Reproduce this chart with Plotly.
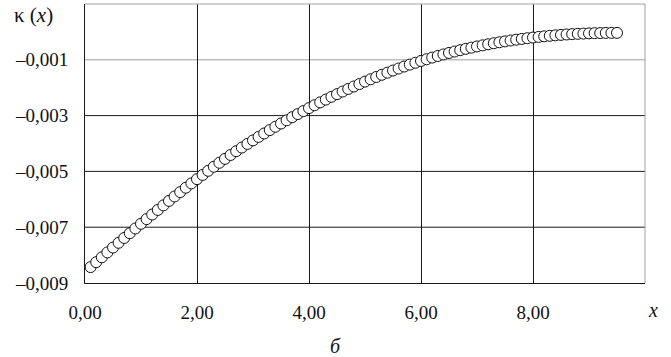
import plotly.graph_objects as go

x_vals = [0.1, 0.2, 0.3, 0.4, 0.5, 0.6, 0.7, 0.8, 0.9, 1.0,
          1.1, 1.2, 1.3, 1.4, 1.5, 1.6, 1.7, 1.8, 1.9, 2.0,
          2.1, 2.2, 2.3, 2.4, 2.5, 2.6, 2.7, 2.8, 2.9, 3.0,
          3.1, 3.2, 3.3, 3.4, 3.5, 3.6, 3.7, 3.8, 3.9, 4.0,
          4.1, 4.2, 4.3, 4.4, 4.5, 4.6, 4.7, 4.8, 4.9, 5.0,
          5.1, 5.2, 5.3, 5.4, 5.5, 5.6, 5.7, 5.8, 5.9, 6.0,
          6.1, 6.2, 6.3, 6.4, 6.5, 6.6, 6.7, 6.8, 6.9, 7.0,
          7.1, 7.2, 7.3, 7.4, 7.5, 7.6, 7.7, 7.8, 7.9, 8.0,
          8.1, 8.2, 8.3, 8.4, 8.5, 8.6, 8.7, 8.8, 8.9, 9.0,
          9.1, 9.2, 9.3, 9.4, 9.5]

kappa = [-0.008430, -0.008254, -0.008078, -0.007904, -0.007730, -0.007558, -0.007386, -0.007216, -0.007046, -0.006878,
         -0.006710, -0.006545, -0.006381, -0.006218, -0.006058, -0.005898, -0.005741, -0.005585, -0.005430, -0.005278,
         -0.005127, -0.004979, -0.004833, -0.004690, -0.004550, -0.004412, -0.004277, -0.004145, -0.004015, -0.003888,
         -0.003763, -0.003640, -0.003519, -0.003400, -0.003284, -0.003169, -0.003057, -0.002946, -0.002838, -0.002732,
         -0.002628, -0.002526, -0.002426, -0.002328, -0.002232, -0.002138, -0.002046, -0.001956, -0.001868, -0.001782,
         -0.001698, -0.001616, -0.001537, -0.001460, -0.001385, -0.001312, -0.001241, -0.001172, -0.001106, -0.001042,
         -0.000980, -0.000920, -0.000863, -0.000808, -0.000755, -0.000704, -0.000655, -0.000608, -0.000564, -0.000522,
         -0.000482, -0.000444, -0.000407, -0.000372, -0.000340, -0.000308, -0.000279, -0.000252, -0.000226, -0.000202,
         -0.000180, -0.000159, -0.000140, -0.000123, -0.000107, -0.000093, -0.000080, -0.000069, -0.000060, -0.000052,
         -0.000046, -0.000041, -0.000037, -0.000035, -0.000035]

x_ticks = [0, 2, 4, 6, 8]
x_ticklabels = ["0,00", "2,00", "4,00", "6,00", "8,00"]
y_ticks = [-0.009, -0.007, -0.005, -0.003, -0.001]
y_ticklabels = ["–0,009", "–0,007", "–0,005", "–0,003", "–0,001"]
y_grid_dark = [-0.007, -0.005, -0.003]
y_grid_light = [-0.001]

FONT = "Liberation Serif, Times New Roman, serif"

fig = go.Figure()
fig.add_trace(go.Scatter(
    x=x_vals, y=kappa, mode="markers",
    marker=dict(symbol="circle", size=11, color="white",
                line=dict(color="#111111", width=1)),
    showlegend=False, hoverinfo="skip"))

shapes = []
for v in y_grid_dark:
    shapes.append(dict(type="line", xref="paper", yref="y", x0=0, x1=1, y0=v, y1=v,
                       line=dict(color="#1a1a1a", width=1), layer="below"))
for v in y_grid_light:
    shapes.append(dict(type="line", xref="paper", yref="y", x0=0, x1=1, y0=v, y1=v,
                       line=dict(color="#a0a0a0", width=1), layer="below"))
shapes.append(dict(type="line", xref="paper", yref="paper", x0=0, x1=1, y0=1, y1=1,
                   line=dict(color="#a0a0a0", width=1)))
shapes.append(dict(type="line", xref="paper", yref="paper", x0=1, x1=1, y0=0, y1=1,
                   line=dict(color="#a0a0a0", width=1)))

fig.update_layout(
    width=671, height=357,
    margin=dict(l=85, r=26, t=4, b=74),
    paper_bgcolor="white", plot_bgcolor="white",
    font=dict(family=FONT, size=19, color="#111111"),
    xaxis=dict(range=[0, 10], tickvals=x_ticks, ticktext=x_ticklabels,
               showgrid=True, gridcolor="#1a1a1a", gridwidth=1,
               zeroline=False, showline=True, linecolor="#1a1a1a", linewidth=1,
               ticks="", ticklabelstandoff=12, tickfont=dict(family=FONT, size=19)),
    yaxis=dict(range=[-0.009, 0.001], tickvals=y_ticks, ticktext=y_ticklabels,
               showgrid=False,
               zeroline=False, showline=True, linecolor="#1a1a1a", linewidth=1,
               ticks="", ticklabelstandoff=12, tickfont=dict(family=FONT, size=19)),
    shapes=shapes,
    annotations=[
        dict(text="κ (<i>x</i>)", xref="paper", yref="paper", x=-85/560, y=1.0,
             xanchor="left", yanchor="top", yshift=3, xshift=12, showarrow=False,
             font=dict(family=FONT, size=21)),
        dict(text="<i>x</i>", xref="paper", yref="paper", x=(653 - 85) / 560, y=0,
             xanchor="center", yanchor="middle", yshift=-27, showarrow=False,
             font=dict(family=FONT, size=20)),
        dict(text="<i>б</i>", xref="paper", yref="paper", x=(335 - 85) / 560, y=0,
             xanchor="center", yanchor="middle", yshift=-63, showarrow=False,
             font=dict(family=FONT, size=20)),
    ],
)

fig.write_html("out.html", config={"displayModeBar": False},
               post_script="document.body.style.margin='0';")
